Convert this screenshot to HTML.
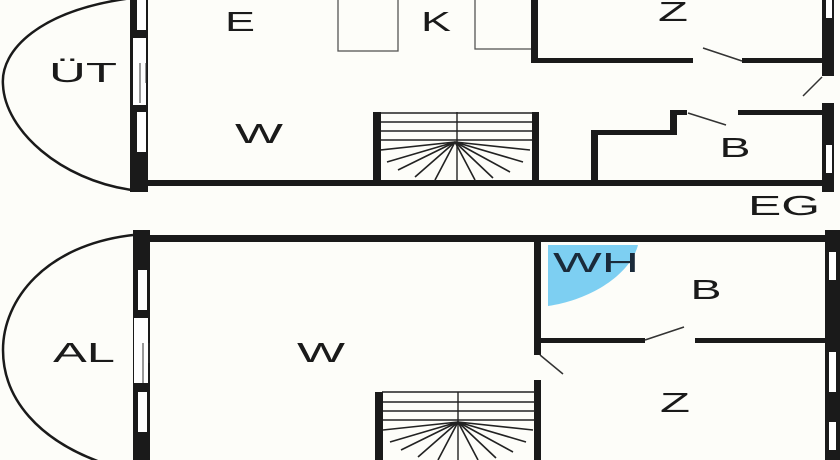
<!DOCTYPE html>
<html><head><meta charset="utf-8"><style>
html,body{margin:0;padding:0;background:#fdfdf9;}
svg{display:block}
text{font-family:"Liberation Sans",sans-serif;font-size:28px;fill:#1a1a1a;text-anchor:middle}
</style></head><body>
<svg width="840" height="460" viewBox="0 0 840 460" xmlns="http://www.w3.org/2000/svg">
<defs>
<g id="fan" stroke="#222" stroke-width="1.6">
<line x1="0" y1="0" x2="-75" y2="8"/>
<line x1="0" y1="0" x2="-68" y2="20"/>
<line x1="0" y1="0" x2="-57" y2="28"/>
<line x1="0" y1="0" x2="-40" y2="35"/>
<line x1="0" y1="0" x2="-20" y2="38"/>
<line x1="0" y1="0" x2="20" y2="38"/>
<line x1="0" y1="0" x2="38" y2="36"/>
<line x1="0" y1="0" x2="55" y2="30"/>
<line x1="0" y1="0" x2="68" y2="20"/>
<line x1="0" y1="0" x2="75" y2="8"/>
</g>
</defs>
<rect width="840" height="460" fill="#fdfdf9"/>
<!-- TOP FLOOR -->
<path d="M132,-2 C40,10 0,50 3,85 C5,130 60,180 132,190" fill="none" stroke="#1a1a1a" stroke-width="2.5"/>
<rect x="130" y="-2" width="18" height="194" fill="#1a1a1a"/>
<rect x="137" y="0" width="9" height="30" fill="#fff"/>
<rect x="133" y="38" width="13" height="67" fill="#fff"/>
<line x1="140" y1="63" x2="140" y2="103" stroke="#333" stroke-width="1"/>
<line x1="146" y1="63" x2="146" y2="83" stroke="#333" stroke-width="1"/>
<rect x="137" y="112" width="9" height="40" fill="#fff"/>
<rect x="148" y="180" width="682" height="6" fill="#1a1a1a"/>
<rect x="822" y="0" width="12" height="192" fill="#1a1a1a"/>
<rect x="826" y="0" width="6" height="18" fill="#fff"/>
<rect x="822" y="76" width="12" height="27" fill="#fdfdf9"/>
<rect x="826" y="145" width="6" height="28" fill="#fff"/>
<line x1="822" y1="77" x2="803" y2="96" stroke="#333" stroke-width="1.5"/>
<rect x="338" y="-2" width="60" height="53" fill="none" stroke="#555" stroke-width="1.3"/>
<rect x="475" y="-2" width="57" height="51" fill="none" stroke="#555" stroke-width="1.3"/>
<rect x="531" y="0" width="7" height="63" fill="#1a1a1a"/>
<rect x="531" y="58" width="162" height="5" fill="#1a1a1a"/>
<rect x="742" y="58" width="82" height="5" fill="#1a1a1a"/>
<line x1="703" y1="48" x2="742" y2="61" stroke="#333" stroke-width="1.5"/>
<g stroke="#222" stroke-width="1.4">
<line x1="380" y1="113" x2="532" y2="113"/><line x1="380" y1="122" x2="532" y2="122"/>
<line x1="380" y1="131" x2="532" y2="131"/><line x1="380" y1="140" x2="532" y2="140"/>
<line x1="457" y1="112" x2="457" y2="180"/>
</g>
<use href="#fan" x="455" y="142"/>
<rect x="373" y="112" width="8" height="72" fill="#1a1a1a"/>
<rect x="532" y="112" width="7" height="72" fill="#1a1a1a"/>
<rect x="591" y="130" width="7" height="54" fill="#1a1a1a"/>
<rect x="591" y="130" width="86" height="5" fill="#1a1a1a"/>
<rect x="670" y="110" width="7" height="25" fill="#1a1a1a"/>
<rect x="670" y="110" width="17" height="5" fill="#1a1a1a"/>
<rect x="738" y="110" width="86" height="5" fill="#1a1a1a"/>
<line x1="688" y1="113" x2="726" y2="125" stroke="#333" stroke-width="1.5"/>
<text x="240" y="31" textLength="30" lengthAdjust="spacingAndGlyphs">E</text>
<text x="436" y="31" textLength="30" lengthAdjust="spacingAndGlyphs">K</text>
<text x="673" y="21" textLength="30" lengthAdjust="spacingAndGlyphs">Z</text>
<text x="83" y="82" textLength="68" lengthAdjust="spacingAndGlyphs">ÜT</text>
<text x="259" y="143" textLength="48" lengthAdjust="spacingAndGlyphs">W</text>
<text x="735" y="157" textLength="31" lengthAdjust="spacingAndGlyphs">B</text>
<text x="784" y="215" textLength="72" lengthAdjust="spacingAndGlyphs">EG</text>
<!-- BOTTOM FLOOR -->
<path d="M133,235 C45,245 3,300 3,350 C3,400 40,440 100,462" fill="none" stroke="#1a1a1a" stroke-width="2.5"/>
<rect x="133" y="230" width="17" height="232" fill="#1a1a1a"/>
<rect x="138" y="270" width="9" height="40" fill="#fff"/>
<rect x="134" y="318" width="14" height="65" fill="#fff"/>
<line x1="143" y1="343" x2="143" y2="383" stroke="#333" stroke-width="1"/>
<line x1="149" y1="343" x2="149" y2="363" stroke="#333" stroke-width="1"/>
<rect x="138" y="392" width="9" height="40" fill="#fff"/>
<rect x="150" y="235" width="680" height="7" fill="#1a1a1a"/>
<rect x="825" y="230" width="15" height="232" fill="#1a1a1a"/>
<rect x="829" y="252" width="7" height="28" fill="#fff"/>
<rect x="829" y="352" width="7" height="40" fill="#fff"/>
<rect x="829" y="422" width="7" height="28" fill="#fff"/>
<path d="M548,245 L638,245 C630,275 590,300 548,306 Z" fill="#7dcff2"/>
<rect x="534" y="242" width="7" height="113" fill="#1a1a1a"/>
<rect x="534" y="380" width="7" height="82" fill="#1a1a1a"/>
<line x1="540" y1="355" x2="563" y2="374" stroke="#333" stroke-width="1.5"/>
<rect x="541" y="338" width="104" height="5" fill="#1a1a1a"/>
<rect x="695" y="338" width="131" height="5" fill="#1a1a1a"/>
<line x1="645" y1="340" x2="684" y2="327" stroke="#333" stroke-width="1.5"/>
<g stroke="#222" stroke-width="1.4">
<line x1="382" y1="392" x2="535" y2="392"/><line x1="382" y1="402" x2="535" y2="402"/>
<line x1="382" y1="411" x2="535" y2="411"/><line x1="382" y1="420" x2="535" y2="420"/>
<line x1="458" y1="392" x2="458" y2="462"/>
</g>
<use href="#fan" x="458" y="422"/>
<rect x="375" y="392" width="8" height="70" fill="#1a1a1a"/>
<text x="596" y="272" textLength="86" lengthAdjust="spacingAndGlyphs" style="fill:#1a2a3a">WH</text>
<text x="706" y="299" textLength="31" lengthAdjust="spacingAndGlyphs">B</text>
<text x="84" y="362" textLength="62" lengthAdjust="spacingAndGlyphs">AL</text>
<text x="321" y="362" textLength="48" lengthAdjust="spacingAndGlyphs">W</text>
<text x="675" y="412" textLength="30" lengthAdjust="spacingAndGlyphs">Z</text>
</svg>
</body></html>
